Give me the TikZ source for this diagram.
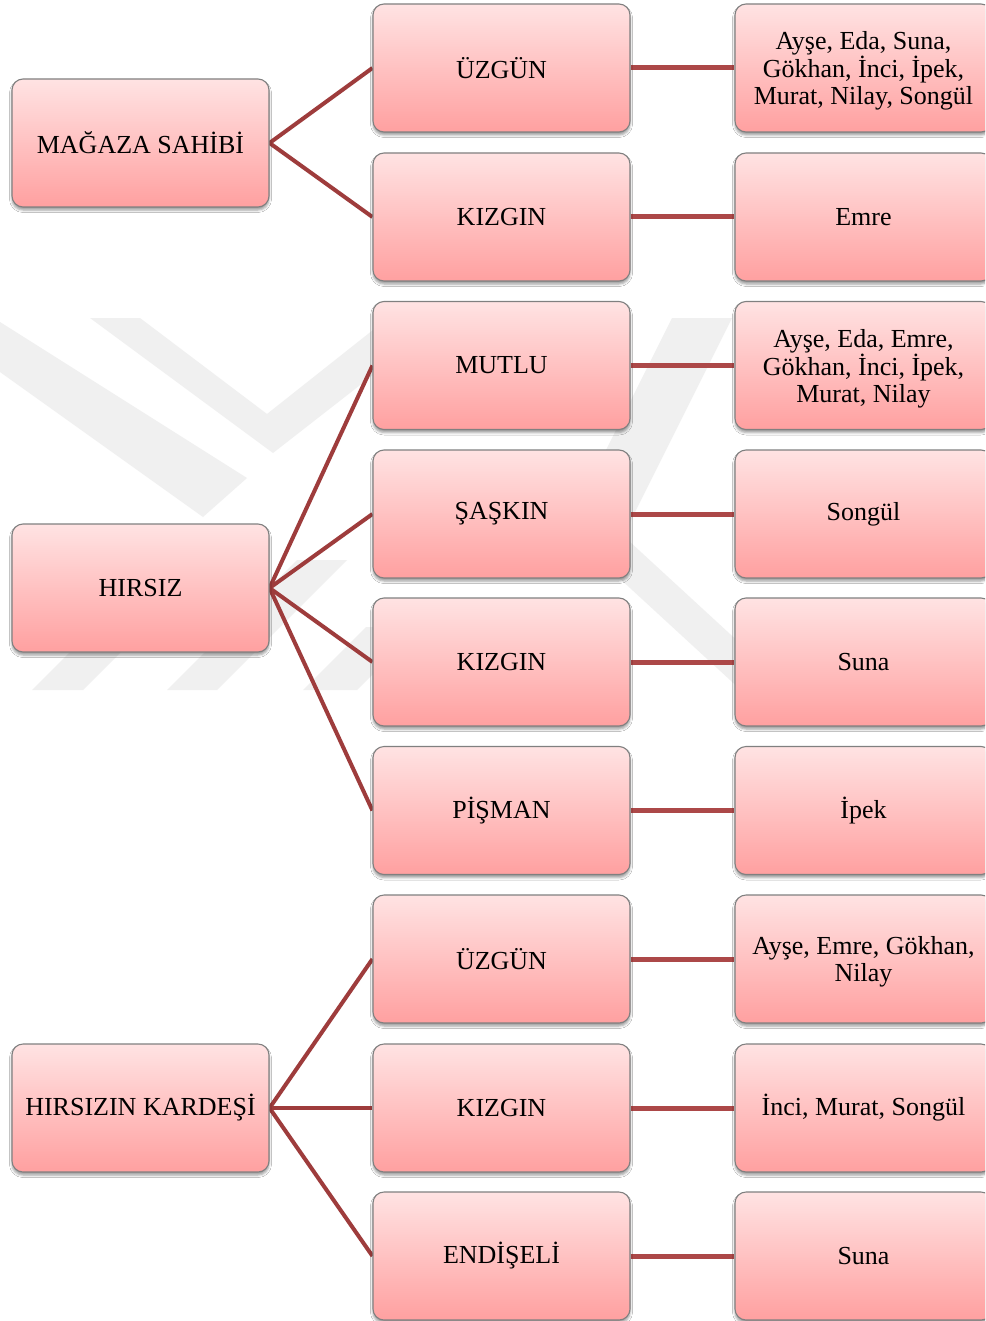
\documentclass[tikz,border=0pt]{standalone}
\usepackage{fontspec}
\setmainfont{Liberation Serif}
\usetikzlibrary{shadows.blur,backgrounds}
\definecolor{wm}{gray}{0.94}
\definecolor{lnk}{RGB}{158,60,60}
\definecolor{lnkh}{RGB}{172,72,72}
\definecolor{boxtop}{RGB}{255,227,227}
\definecolor{boxbot}{RGB}{255,160,160}
\definecolor{boxedge}{RGB}{128,128,128}
\newcommand{\mltext}[1]{\raisebox{0pt}[\dimexpr\height+6pt\relax][\depth]{\parbox{250pt}{\centering\fontsize{26}{27}\selectfont #1\par}}}
\begin{document}
\begin{tikzpicture}[x=1pt,y=-1pt,
  box/.style={draw=boxedge, line width=1.1pt, rounded corners=11pt,
    minimum width=257pt, minimum height=128pt, inner sep=0pt, align=center,
    top color=boxtop, bottom color=boxbot,
    font=\fontsize{26}{27}\selectfont,
    blur shadow={shadow xshift=0pt, shadow yshift=-3pt, shadow blur radius=2.5pt, shadow opacity=40}},
  diag/.style={draw=lnk, line width=4pt},
  horiz/.style={draw=lnkh, line width=5pt},
  wmark/.style={fill=wm, draw=none}]
\useasboundingbox (0,0) rectangle (985,1321);
\clip (0,0) rectangle (985,1321);
% left column
\node[box] (ms) at (140.5,143) {MAĞAZA SAHİBİ};
\node[box] (hr) at (140.5,588) {HIRSIZ};
\node[box] (hk) at (140.5,1108) {HIRSIZIN KARDEŞİ};
% middle column
\node[box] (m1) at (501.5,68) {ÜZGÜN};
\node[box] (m2) at (501.5,217) {KIZGIN};
\node[box] (m3) at (501.5,365.5) {MUTLU};
\node[box] (m4) at (501.5,514) {ŞAŞKIN};
\node[box] (m5) at (501.5,662) {KIZGIN};
\node[box] (m6) at (501.5,810.5) {PİŞMAN};
\node[box] (m7) at (501.5,959) {ÜZGÜN};
\node[box] (m8) at (501.5,1108) {KIZGIN};
\node[box] (m9) at (501.5,1256) {ENDİŞELİ};
% right column
\node[box] (r1) at (863.5,68) {\mltext{Ayşe, Eda, Suna,\\Gökhan, İnci, İpek,\\Murat, Nilay, Songül}};
\node[box] (r2) at (863.5,217) {Emre};
\node[box] (r3) at (863.5,365.5) {\mltext{Ayşe, Eda, Emre,\\Gökhan, İnci, İpek,\\Murat, Nilay}};
\node[box] (r4) at (863.5,514) {Songül};
\node[box] (r5) at (863.5,662) {Suna};
\node[box] (r6) at (863.5,810.5) {İpek};
\node[box] (r7) at (863.5,959) {\mltext{Ayşe, Emre, Gökhan,\\Nilay}};
\node[box] (r8) at (863.5,1108) {İnci, Murat, Songül};
\node[box] (r9) at (863.5,1256) {Suna};
\begin{scope}[on background layer]
\fill[white] (0,0) rectangle (985,1321);
% watermark
\path[wmark] (0,322) -- (0,372) -- (203,517) -- (247,478) -- cycle;
\path[wmark] (90,318) -- (273,453) -- (373,375) -- (373,330) -- (267,414) -- (140,318) -- cycle;
\path[wmark] (32,690) -- (83,690) -- (200,573) -- (149,573) -- cycle;
\path[wmark] (167,690) -- (217,690) -- (347,560) -- (297,560) -- cycle;
\path[wmark] (303,690) -- (357,690) -- (420,627) -- (366,627) -- cycle;
\path[wmark] (672,318) -- (566.3,529.4) -- (760,707.6) -- (760,661.6) -- (623.2,535.7) -- (732,318) -- cycle;
% connectors
\draw[diag] (ms.east) -- (m1.west);
\draw[diag] (ms.east) -- (m2.west);
\draw[diag] (hr.east) -- (m3.west);
\draw[diag] (hr.east) -- (m4.west);
\draw[diag] (hr.east) -- (m5.west);
\draw[diag] (hr.east) -- (m6.west);
\draw[diag] (hk.east) -- (m7.west);
\draw[diag] (hk.east) -- (m8.west);
\draw[diag] (hk.east) -- (m9.west);
\draw[horiz] (m1.east) -- (r1.west);
\draw[horiz] (m2.east) -- (r2.west);
\draw[horiz] (m3.east) -- (r3.west);
\draw[horiz] (m4.east) -- (r4.west);
\draw[horiz] (m5.east) -- (r5.west);
\draw[horiz] (m6.east) -- (r6.west);
\draw[horiz] (m7.east) -- (r7.west);
\draw[horiz] (m8.east) -- (r8.west);
\draw[horiz] (m9.east) -- (r9.west);
\end{scope}
\end{tikzpicture}
\end{document}
